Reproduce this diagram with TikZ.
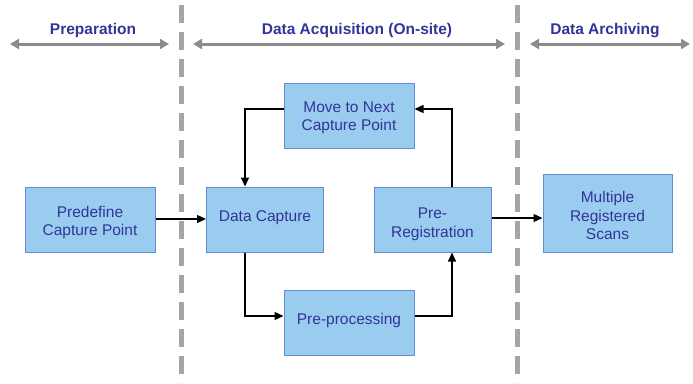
\documentclass[tikz,border=0pt]{standalone}
\usepackage{fontspec}
\setmainfont{Liberation Sans}
\usetikzlibrary{arrows.meta}
\definecolor{boxfill}{RGB}{153,204,238}
\definecolor{boxdraw}{RGB}{100,140,210}
\definecolor{txtblue}{RGB}{51,51,153}
\definecolor{hdrgray}{RGB}{140,140,140}
\definecolor{dashgray}{RGB}{165,165,165}
\tikzset{
  procbox/.style={draw=boxdraw, fill=boxfill, line width=1pt, text=txtblue, align=center,
    font=\fontsize{15.5}{18.5}\selectfont, inner sep=0pt},
  singleline/.style={text depth=7pt},
  hdr/.style={text=txtblue, font=\fontsize{15.5}{18}\selectfont\bfseries},
  phase/.style={draw=hdrgray, line width=3pt, {Triangle[length=9pt,width=10pt]}-{Triangle[length=9pt,width=10pt]}},
  divider/.style={draw=dashgray, line width=5pt, dash pattern=on 18pt off 9pt},
  flow/.style={draw=black, line width=1.3pt, -{Triangle[length=9pt,width=8pt]}}
}
\begin{document}
\begin{tikzpicture}[x=1pt,y=-1pt]
\useasboundingbox (0,0) rectangle (693,383);
% dividers
\coordinate (d1t) at (181,5); \coordinate (d1b) at (181,383);
\coordinate (d2t) at (517,5); \coordinate (d2b) at (517,383);
\draw[divider] (d1t) -- (d1b);
\draw[divider] (d2t) -- (d2b);
% headers
\node[hdr] (h1) at (93,30.5) {Preparation};
\node[hdr] (h2) at (357,30.5) {Data Acquisition (On-site)};
\node[hdr] (h3) at (605,30.5) {Data Archiving};
\coordinate (p1a) at (10,44); \coordinate (p1b) at (169,44);
\coordinate (p2a) at (193,44); \coordinate (p2b) at (505,44);
\coordinate (p3a) at (530,44); \coordinate (p3b) at (690,44);
\draw[phase] (p1a) -- (p1b);
\draw[phase] (p2a) -- (p2b);
\draw[phase] (p3a) -- (p3b);
% boxes
\node[procbox, text height=36pt, minimum width=130pt, minimum height=65pt] (pre) at (90,219.5) {Predefine\\Capture Point};
\node[procbox, singleline, minimum width=117pt, minimum height=65pt] (dc) at (265,219.5) {Data Capture};
\node[procbox, text height=34pt, minimum width=130pt, minimum height=65pt] (mv) at (349,115.5) {Move to Next\\Capture Point};
\node[procbox, singleline, minimum width=130pt, minimum height=65pt] (pp) at (349,322.5) {Pre-processing};
\node[procbox, text height=38.5pt, minimum width=117pt, minimum height=65pt] (pr) at (432.5,219.5) {Pre-\\Registration};
\node[procbox, text height=53.5pt, minimum width=129pt, minimum height=78pt] (ms) at (607.5,213) {Multiple\\Registered\\Scans};
% connectors
\draw[flow] (pre.east |- 0,219) -- (dc.west |- 0,219);
\draw[flow] (mv.west |- 0,109) -| (dc.north -| 245,0);
\draw[flow] (dc.south -| 245,0) |- (pp.west |- 0,316);
\draw[flow] (pp.east |- 0,316) -| (pr.south -| 452,0);
\draw[flow] (pr.north -| 452,0) |- (mv.east |- 0,109);
\draw[flow] (pr.east |- 0,218) -- (ms.west |- 0,218);
\end{tikzpicture}
\end{document}
